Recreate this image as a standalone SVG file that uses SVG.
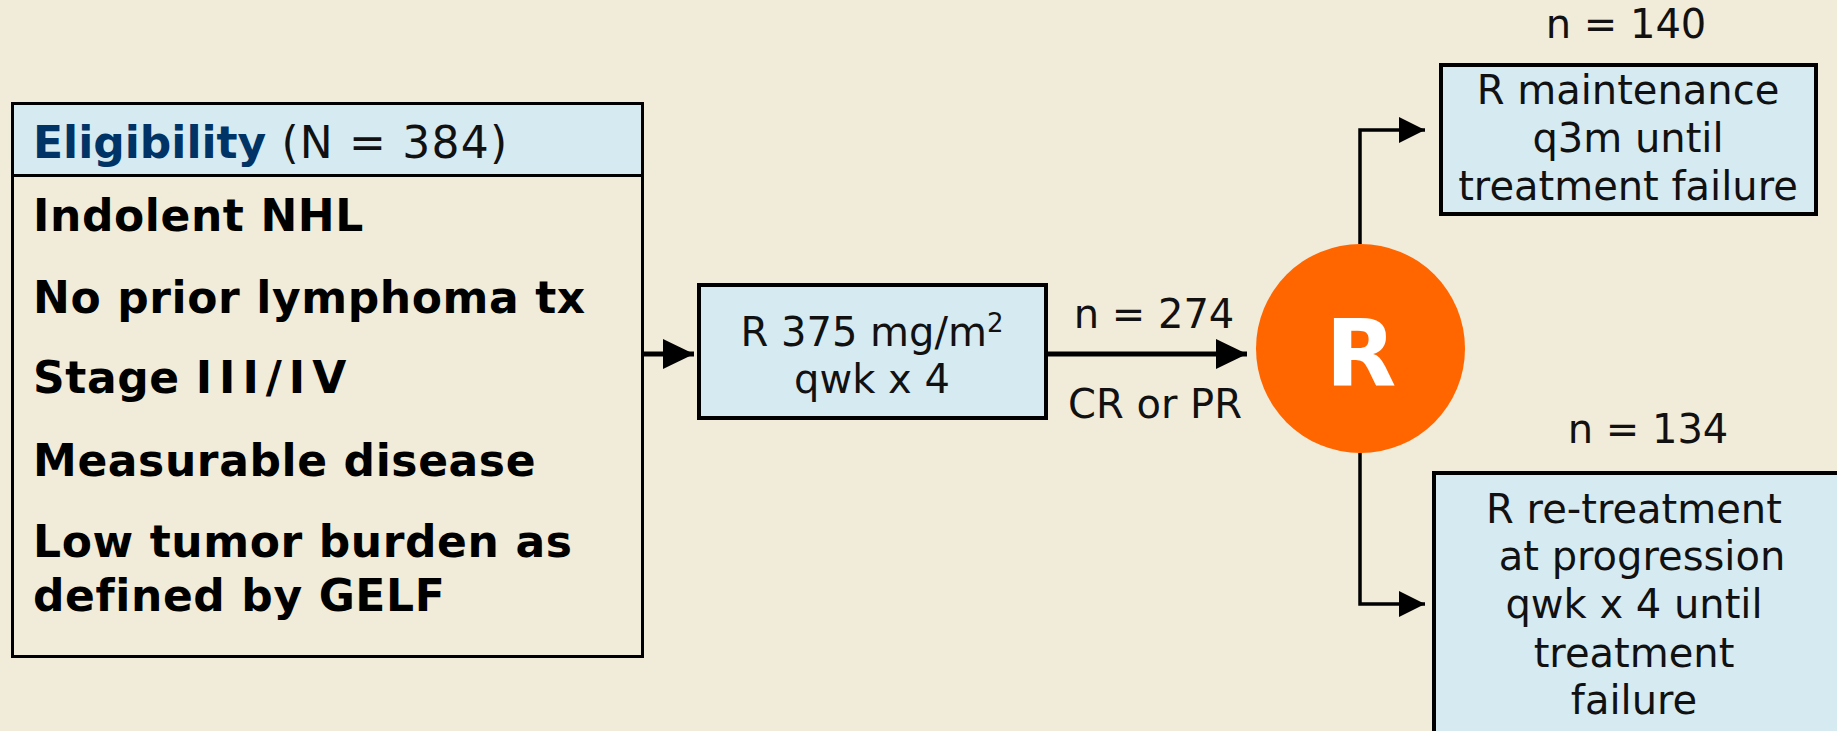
<svg xmlns="http://www.w3.org/2000/svg" width="1837" height="731" viewBox="0 0 1837 731">
  <style>
    .bg { fill: #F1EBD9; }
    .box { fill: #D6EAF1; stroke: #000; stroke-width: 4; }
    .frame { fill: none; stroke: #000; stroke-width: 3; }
    .head { fill: #D6EAF1; }
    .t { font-family: "DejaVu Sans", Verdana, sans-serif; font-size: 40px; fill: #111; }
    .c { text-anchor: middle; }
    .b { font-family: "DejaVu Sans", Verdana, sans-serif; font-size: 44px; font-weight: bold; fill: #000; letter-spacing: 0.6px; }
    .conn { fill: none; stroke: #000; }
    .thick { stroke-width: 5; }
    .thin { stroke-width: 3.5; }
  </style>
  <defs>
    <marker id="arrowBig" markerUnits="userSpaceOnUse" markerWidth="32" markerHeight="32" refX="31" refY="15" orient="auto">
      <path d="M0,0 L31,15 L0,30 Z" fill="#000"/>
    </marker>
    <marker id="arrowSmall" markerUnits="userSpaceOnUse" markerWidth="28" markerHeight="28" refX="26" refY="13" orient="auto">
      <path d="M0,0 L26,13 L0,26 Z" fill="#000"/>
    </marker>
  </defs>

  <rect class="bg" x="0" y="0" width="1837" height="731"/>

  <!-- eligibility criteria -->
  <g id="eligibility">
    <rect class="head" x="12" y="103" width="631" height="72"/>
    <rect class="frame" x="12.5" y="103.5" width="630" height="553"/>
    <line x1="12" y1="175.5" x2="643" y2="175.5" stroke="#000" stroke-width="3"/>
    <text class="t" x="33" y="158" style="font-size:44px"><tspan class="b" style="fill:#003366;letter-spacing:0">Eligibility</tspan><tspan style="letter-spacing:1.2px"> (N = 384)</tspan></text>
    <text class="b" x="33" y="231">Indolent NHL</text>
    <text class="b" x="33" y="313">No prior lymphoma tx</text>
    <text class="b" x="33" y="393">Stage <tspan style="letter-spacing:7px">III/IV</tspan></text>
    <text class="b" x="33" y="476">Measurable disease</text>
    <text class="b" x="33" y="557">Low tumor burden as</text>
    <text class="b" x="33" y="611">defined by GELF</text>
  </g>

  <!-- induction therapy -->
  <g id="induction">
    <rect class="box" x="699" y="285" width="347" height="133"/>
    <text class="t c" x="872" y="346">R 375 mg/m<tspan dy="-14" style="font-size:26px">2</tspan></text>
    <text class="t c" x="872" y="393">qwk x 4</text>
  </g>

  <!-- randomisation -->
  <g id="randomize">
    <circle cx="1360.5" cy="348.5" r="104.5" fill="#FF6600"/>
    <text x="1361" y="386" text-anchor="middle" style="font-family:'DejaVu Sans', Verdana, sans-serif; font-size:92px; font-weight:bold; fill:#fff">R</text>
  </g>

  <!-- maintenance arm -->
  <g id="maintenance">
    <text class="t c" x="1626" y="38">n = 140</text>
    <rect class="box" x="1441" y="65" width="375" height="149"/>
    <text class="t c" x="1628" y="104">R maintenance</text>
    <text class="t c" x="1628" y="152">q3m until</text>
    <text class="t c" x="1628" y="200">treatment failure</text>
  </g>

  <!-- re-treatment arm -->
  <g id="retreatment">
    <text class="t c" x="1648" y="443">n = 134</text>
    <rect class="box" x="1434" y="473" width="440" height="300"/>
    <text class="t c" x="1634" y="523">R re-treatment</text>
    <text class="t c" x="1642" y="570">at progression</text>
    <text class="t c" x="1634" y="618">qwk x 4 until</text>
    <text class="t c" x="1634" y="667">treatment</text>
    <text class="t c" x="1634" y="714">failure</text>
  </g>

  <!-- connectors -->
  <g id="connectors">
    <line class="conn thick" x1="643" y1="354" x2="694" y2="354" marker-end="url(#arrowBig)"/>
    <line class="conn thick" x1="1048" y1="354" x2="1247" y2="354" marker-end="url(#arrowBig)"/>
    <text class="t c" x="1154" y="328">n = 274</text>
    <text class="t c" x="1155" y="418">CR or PR</text>
    <path class="conn thin" d="M1360,244 V130 H1425" marker-end="url(#arrowSmall)"/>
    <path class="conn thin" d="M1360,453 V604 H1425" marker-end="url(#arrowSmall)"/>
  </g>
</svg>
